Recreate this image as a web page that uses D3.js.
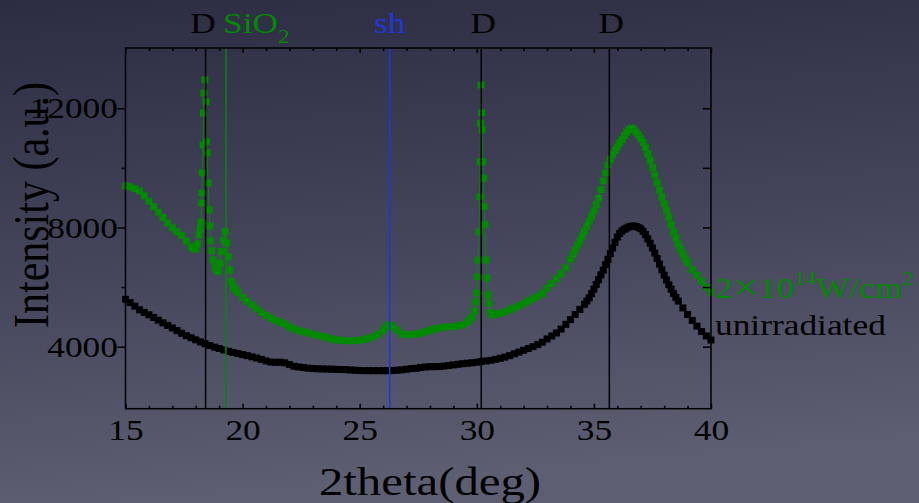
<!DOCTYPE html>
<html>
<head>
<meta charset="utf-8">
<script src="https://cdn.jsdelivr.net/npm/d3@7"></script>
<style>
  html, body { margin: 0; padding: 0; }
  body { width: 919px; height: 503px; overflow: hidden; background: #44455a; }
  svg { display: block; }
  text { font-family: "Liberation Serif", "Times New Roman", serif; }
</style>
</head>
<body>
<svg id="chart" width="919" height="503"></svg>
<script>
// 2theta (deg), intensity (a.u.)
const unirradiated = [
  [15.0,5590],[15.2,5480],[15.4,5360],[15.6,5240],[15.8,5150],[16.0,5070],[16.2,4980],[16.4,4890],[16.6,4800],[16.8,4715],
  [17.0,4630],[17.2,4540],[17.4,4450],[17.6,4370],[17.8,4300],[18.0,4230],[18.2,4160],[18.4,4100],[18.6,4040],[18.8,3985],
  [19.0,3940],[19.2,3890],[19.4,3845],[19.6,3805],[19.8,3770],[20.0,3735],[20.2,3700],[20.4,3660],[20.6,3620],[20.8,3575],
  [21.0,3525],[21.2,3485],[21.4,3475],[21.6,3480],[21.8,3460],[22.0,3400],[22.2,3345],[22.4,3320],[22.6,3300],[22.8,3280],
  [23.0,3270],[23.2,3260],[23.4,3255],[23.6,3250],[23.8,3245],[24.0,3240],[24.2,3235],[24.4,3230],[24.6,3220],[24.8,3210],
  [25.0,3200],[25.2,3195],[25.4,3195],[25.6,3195],[25.8,3195],[26.0,3195],[26.2,3195],[26.4,3200],[26.6,3210],[26.8,3225],
  [27.0,3245],[27.2,3265],[27.4,3275],[27.6,3300],[27.8,3320],[28.0,3330],[28.2,3330],[28.4,3335],[28.6,3350],[28.8,3370],
  [29.0,3390],[29.2,3410],[29.4,3430],[29.6,3445],[29.8,3460],[30.0,3480],[30.2,3500],[30.4,3520],[30.6,3545],[30.8,3575],
  [31.0,3610],[31.2,3650],[31.4,3700],[31.6,3760],[31.8,3820],[32.0,3880],[32.2,3940],[32.4,4000],[32.6,4070],[32.8,4150],
  [33.0,4260],[33.2,4360],[33.4,4460],[33.6,4590],[33.8,4750],[34.0,4910],[34.2,5080],[34.4,5250],[34.6,5420],[34.7,5530],
  [34.8,5640],[34.9,5780],[35.0,5930],[35.1,6090],[35.2,6250],[35.3,6410],[35.4,6570],[35.5,6750],[35.6,6930],[35.7,7120],
  [35.8,7310],[35.9,7500],[36.0,7680],[36.1,7800],[36.2,7880],[36.3,7940],[36.4,7980],[36.5,8020],[36.6,8040],[36.7,8050],
  [36.8,8030],[36.9,8000],[37.0,7960],[37.1,7870],[37.2,7760],[37.3,7620],[37.4,7470],[37.5,7310],[37.6,7140],[37.7,6960],
  [37.8,6770],[37.9,6580],[38.0,6400],[38.1,6240],[38.2,6080],[38.3,5930],[38.4,5780],[38.5,5650],[38.6,5530],[38.8,5300],
  [39.0,5080],[39.2,4880],[39.4,4690],[39.6,4510],[39.8,4360],[40.0,4225]
];

const irradiated = [
  [15.0,9400],[15.2,9360],[15.4,9300],[15.6,9230],[15.8,9060],[16.0,8880],[16.2,8700],[16.4,8510],[16.6,8330],[16.8,8150],
  [17.0,7990],[17.2,7860],[17.4,7730],[17.6,7540],[17.8,7340],[17.9,7280],[18.0,7270],[18.08,7450],[18.14,7750],[18.18,7940],
  [18.22,8175],[18.25,8820],[18.27,9150],[18.28,9830],[18.31,10770],[18.33,11840],[18.35,12510],[18.39,12950],[18.44,12220],
  [18.45,10880],[18.48,10500],[18.53,9490],[18.57,8590],[18.6,8050],[18.62,7550],[18.68,7220],[18.74,6910],[18.84,6650],
  [18.9,6570],[18.95,6520],[19.03,6800],[19.1,7190],[19.18,7580],[19.25,7860],[19.32,7480],[19.39,7020],[19.46,6575],
  [19.53,6180],[19.6,6000],[19.7,5900],[19.8,5820],[20.0,5650],[20.2,5520],[20.4,5400],[20.6,5270],[20.8,5150],
  [21.0,5050],[21.2,4960],[21.4,4880],[21.6,4820],[21.8,4760],[22.0,4660],[22.2,4590],[22.4,4540],[22.6,4500],[22.8,4460],
  [23.0,4420],[23.2,4380],[23.4,4340],[23.6,4300],[23.8,4260],[24.0,4230],[24.2,4215],[24.4,4205],[24.6,4200],[24.8,4205],
  [25.0,4215],[25.2,4240],[25.4,4290],[25.6,4340],[25.8,4420],[26.0,4540],[26.1,4640],[26.2,4720],[26.3,4730],[26.4,4670],
  [26.6,4560],[26.8,4420],[27.0,4400],[27.2,4410],[27.4,4425],[27.6,4455],[27.8,4500],[28.0,4550],[28.2,4600],[28.4,4630],
  [28.6,4650],[28.8,4665],[29.0,4675],[29.2,4700],[29.4,4730],[29.6,4820],[29.7,4900],[29.8,4990],[29.9,5200],[29.95,5500],
  [30.0,5800],[30.03,6350],[30.06,6900],[30.09,7850],[30.12,9030],[30.14,10200],[30.16,11500],[30.18,12780],[30.2,11850],
  [30.23,11270],[30.26,10200],[30.29,9650],[30.32,8700],[30.35,8100],[30.4,6910],[30.44,6300],[30.48,5735],[30.52,5460],
  [30.58,5150],[30.65,5064],[30.8,5090],[31.0,5120],[31.2,5170],[31.4,5240],[31.6,5300],[31.8,5370],[32.0,5450],[32.2,5530],
  [32.4,5610],[32.6,5690],[32.8,5790],[33.0,5960],[33.2,6120],[33.4,6280],[33.6,6450],[33.8,6650],[34.0,6920],[34.1,7080],
  [34.2,7250],[34.3,7400],[34.4,7560],[34.5,7720],[34.6,7880],[34.7,8040],[34.8,8200],[34.9,8380],[35.0,8560],[35.1,8770],
  [35.2,8980],[35.3,9270],[35.4,9560],[35.5,9830],[35.6,10100],[35.7,10280],[35.8,10450],[35.9,10580],[36.0,10700],[36.1,10830],
  [36.2,10950],[36.3,11080],[36.4,11200],[36.5,11280],[36.6,11330],[36.7,11300],[36.8,11200],[36.9,11100],[37.0,10980],
  [37.1,10850],[37.2,10680],[37.3,10470],[37.4,10250],[37.5,10010],[37.6,9760],[37.7,9500],[37.8,9250],[37.9,9020],
  [38.0,8800],[38.1,8570],[38.2,8340],[38.3,8090],[38.4,7850],[38.5,7650],[38.6,7450],[38.7,7270],[38.8,7110],[38.9,6960],
  [39.0,6820],[39.2,6580],[39.4,6400],[39.6,6200],[39.8,6000],[40.0,5830]
];

const xMajor = [15, 20, 25, 30, 35, 40];
const xMinor = [16, 17, 18, 19, 21, 22, 23, 24, 26, 27, 28, 29, 31, 32, 33, 34, 36, 37, 38, 39];
const yMajor = [4000, 8000, 12000];
const yMinor = [6000, 10000];

// reference lines: D = diamond, SiO2, sh = shoulder
const peakPos = [18.42, 19.29, 26.28, 30.19, 35.66];
const peakName = ["D", "SiO2", "sh", "D", "D"];

const svg = d3.select('#chart');
const W = 919, H = 503;
const GREEN = '#008a00', BLUE = '#2036dc';
const SX = 1.22; // text in the picture is stretched sideways

const defs = svg.append('defs');
const grad = defs.append('linearGradient').attr('id', 'bg')
  .attr('x1', 0).attr('y1', 0).attr('x2', 0.15).attr('y2', 1);
grad.append('stop').attr('offset', '0%').attr('stop-color', '#2c2c42');
grad.append('stop').attr('offset', '55%').attr('stop-color', '#45465b');
grad.append('stop').attr('offset', '100%').attr('stop-color', '#5d5e72');
svg.append('rect').attr('width', W).attr('height', H).attr('fill', 'url(#bg)');

const pLeft = 125.5, pRight = 711, pTop = 48, pBottom = 408.7;
const x = d3.scaleLinear().domain([15, 40]).range([pLeft, pRight]);
const y = d3.scaleLinear().domain([1920, 14020]).range([pBottom, pTop]);

// series
function drawSeries(data, color) {
  const g = svg.append('g');
  g.append('path').datum(data)
    .attr('fill', 'none').attr('stroke', color).attr('stroke-width', 1)
    .attr('d', d3.line().x(d => x(d[0])).y(d => y(d[1])));
  g.selectAll('rect').data(data).enter().append('rect')
    .attr('x', d => x(d[0]) - 3.5).attr('y', d => y(d[1]) - 3.5)
    .attr('width', 7).attr('height', 7).attr('fill', color);
}
drawSeries(unirradiated, '#000');
drawSeries(irradiated, GREEN);

// reference lines
const lineColor = n => n === 'SiO2' ? GREEN : (n === 'sh' ? BLUE : '#000');
svg.append('g').selectAll('line').data(peakPos).enter().append('line')
  .attr('x1', d => x(d)).attr('x2', d => x(d))
  .attr('y1', pTop).attr('y2', pBottom)
  .attr('stroke', (d, i) => lineColor(peakName[i])).attr('stroke-width', 1.5);

// frame
svg.append('rect').attr('x', pLeft).attr('y', pTop)
  .attr('width', pRight - pLeft).attr('height', pBottom - pTop)
  .attr('fill', 'none').attr('stroke', '#000').attr('stroke-width', 1.5);

// axes
function tidy(g) { g.select('.domain').remove(); g.selectAll('line').attr('stroke', '#000').attr('stroke-width', 1.5); }
svg.append('g').attr('transform', `translate(0,${pBottom})`)
  .call(d3.axisBottom(x).tickValues(xMinor).tickSize(-3).tickFormat('')).call(tidy);
const xb = svg.append('g').attr('transform', `translate(0,${pBottom})`)
  .call(d3.axisBottom(x).tickValues(xMajor).tickSize(-5).tickPadding(11).tickFormat(d3.format('d'))).call(tidy);
svg.append('g').attr('transform', `translate(0,${pTop})`)
  .call(d3.axisTop(x).tickValues(xMinor).tickSize(-3).tickFormat('')).call(tidy);
svg.append('g').attr('transform', `translate(0,${pTop})`)
  .call(d3.axisTop(x).tickValues(xMajor).tickSize(-5).tickFormat('')).call(tidy);
const yl = svg.append('g').attr('transform', `translate(${pLeft},0)`)
  .call(d3.axisLeft(y).tickValues(yMajor).tickSize(8).tickFormat(d3.format('d'))).call(tidy);
svg.append('g').attr('transform', `translate(${pLeft},0)`)
  .call(d3.axisLeft(y).tickValues(yMinor).tickSize(4).tickFormat('')).call(tidy);
svg.append('g').attr('transform', `translate(${pRight},0)`)
  .call(d3.axisRight(y).tickValues(yMajor.concat(yMinor)).tickSize(-8).tickFormat('')).call(tidy);

xb.selectAll('text').attr('font-size', 29).attr('fill', '#000')
  .attr('font-family', '"Liberation Serif", serif').attr('transform', `scale(${SX},1)`);
yl.selectAll('text').attr('font-size', 29).attr('fill', '#000')
  .attr('font-family', '"Liberation Serif", serif')
  .attr('x', -6.2).attr('dy', '0.33em').attr('transform', `scale(${SX},1)`);

// text helper
function label(tx, ty, opts) {
  const t = svg.append('text')
    .attr('transform', `translate(${tx},${ty}) scale(${SX},1)` + (opts.rotate ? ` rotate(${opts.rotate})` : ''))
    .attr('font-size', opts.size).attr('fill', opts.fill || '#000')
    .attr('text-anchor', opts.anchor || 'start');
  return t;
}

// peak labels
peakName.forEach((n, i) => {
  const px = x(peakPos[i]);
  if (n === 'SiO2') {
    const t = label(px - 3, 33, { size: 29, fill: GREEN });
    t.append('tspan').text('SiO');
    t.append('tspan').attr('font-size', 19).attr('dy', 10).text('2');
  } else if (n === 'sh') {
    label(px, 33, { size: 29, fill: BLUE, anchor: 'middle' }).text('sh');
  } else {
    label(i === 0 ? px - 2.5 : px + 2, 33, { size: 29, anchor: 'middle' }).text(n);
  }
});

// series labels at the right end
const lg = label(715, 298, { size: 29, fill: GREEN });
lg.append('tspan').text('2');
lg.append('tspan').attr('font-size', 38).attr('dy', 2).text('\u00d7');
lg.append('tspan').attr('dy', -2).text('10');
lg.append('tspan').attr('font-size', 18).attr('dy', -13).text('14');
lg.append('tspan').attr('dy', 13).text('W/cm');
lg.append('tspan').attr('font-size', 18).attr('dy', -13).text('2');
label(715, 335, { size: 29 }).text('unirradiated');

// axis titles
label(430, 495, { size: 40, anchor: 'middle' }).text('2theta(deg)');
label(48, 205, { size: 42, anchor: 'middle', rotate: -90 }).text('Intensity (a.u.)');
</script>
</body>
</html>
